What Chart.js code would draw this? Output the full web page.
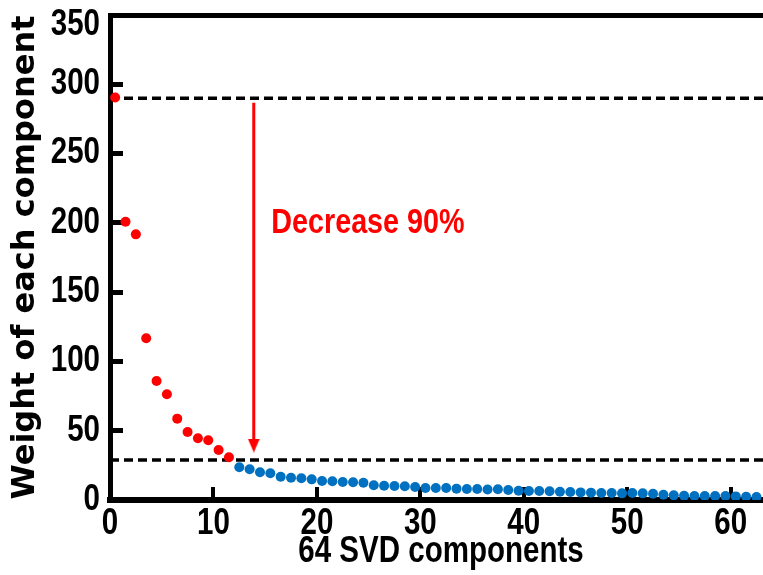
<!DOCTYPE html>
<html><head><meta charset="utf-8">
<script src="https://cdn.jsdelivr.net/npm/chart.js@4/dist/chart.umd.min.js"></script>
<style>
html,body{margin:0;padding:0;overflow:hidden;background:#fff;width:763px;height:575px}
#wrap{position:absolute;left:0;top:0;width:800px;height:575px}
</style>
</head><body><div id="wrap"><canvas id="c" width="800" height="575"></canvas></div>
<script>
// ---- data ----
const xTickLabels = [0, 10, 20, 30, 40, 50, 60];
const yTickLabels = [0, 50, 100, 150, 200, 250, 300, 350];
// weights of the first 12 components (red)
const majorWeights = [290.5, 200.8, 191.7, 116.7, 85.9, 76.3, 58.7, 49.1, 44.5, 43.1, 36.1, 30.8];
// weights of the remaining visible components (blue)
const minorWeights = [23.6, 22.2, 20.0, 19.3, 16.8, 16.1, 15.7, 14.9, 13.7, 13.5, 13.0, 12.8, 12.5,
  10.6, 10.3, 10.1, 9.9, 9.4, 8.7, 8.7, 8.7, 8.2, 7.9, 7.9, 7.6, 7.7, 7.2, 6.7, 6.5, 6.5, 6.3, 6.0,
  5.8, 5.5, 5.3, 5.1, 5.1, 4.8, 5.0, 4.8, 4.5, 3.8, 3.4, 3.1, 2.9, 2.9, 2.9, 2.9, 2.6, 2.4, 2.2];
const referenceLevels = [290, 28.9];        // dashed lines
const arrowComponent = 13.9;                // x of the arrow
const arrowFromTo = [286.6, 39.3];          // arrow start / head centre
const annotationText = 'Decrease 90%';
const annotationAt = [15.6, 192.4];         // x, y (baseline)
const xTitle = '64 SVD components';
const yTitle = 'Weight of each component';

const NARROW = '"Liberation Sans", Arial, sans-serif';
const NARROW_SCALE = 0.82;
const RED = '#ff0000', BLUE = '#0070c0';
const TOP_LABEL = yTickLabels[yTickLabels.length - 1];

const head = document.createElement('canvas');
head.width = 12; head.height = 14;
{ const h = head.getContext('2d'); h.fillStyle = RED; h.beginPath(); h.moveTo(0,0); h.lineTo(12,0); h.lineTo(6,14); h.closePath(); h.fill(); }

const toPts = (arr, start) => arr.map((w, i) => ({x: start + i + 0.5, y: w}));
const hLine = v => [{x: 0, y: v}, {x: 64, y: v}];

// condensed rendering of the "Liberation Sans" labels (Calibri-like narrow look)
const narrowTextPlugin = {
  id: 'narrowText',
  beforeDraw(chart) {
    const ctx = chart.ctx;
    if (ctx.__narrowPatched) return;
    ctx.__narrowPatched = true;
    const orig = ctx.fillText;
    ctx.fillText = function (text, x, y, maxWidth) {
      if (this.font.indexOf('Liberation') >= 0) {
        this.save();
        this.translate(x, y);
        this.scale(NARROW_SCALE, 1);
        orig.call(this, text, 0, 0);
        this.restore();
      } else {
        orig.call(this, text, x, y, maxWidth);
      }
    };
  }
};

const annotationPlugin = {
  id: 'annot',
  afterDatasetsDraw(chart) {
    const {ctx, scales} = chart;
    ctx.save();
    ctx.fillStyle = RED;
    ctx.font = 'bold 35px ' + NARROW;
    ctx.textAlign = 'left';
    ctx.textBaseline = 'alphabetic';
    ctx.fillText(annotationText, scales.x.getPixelForValue(annotationAt[0]), scales.y.getPixelForValue(annotationAt[1]));
    // top y tick label sits just below the frame in the reference
    ctx.fillStyle = '#000';
    ctx.font = 'bold 36px ' + NARROW;
    ctx.textAlign = 'right';
    ctx.textBaseline = 'middle';
    ctx.fillText(String(TOP_LABEL), scales.y.right - 10, scales.y.getPixelForValue(TOP_LABEL) + 10);
    ctx.restore();
  }
};

new Chart(document.getElementById('c'), {
  type: 'scatter',
  data: {
    datasets: [
      {data: toPts(majorWeights, 0), backgroundColor: RED, borderWidth: 0, pointRadius: 5, order: 0},
      {data: toPts(minorWeights, majorWeights.length), backgroundColor: BLUE, borderWidth: 0, pointRadius: 5, order: 0},
      {data: hLine(referenceLevels[0]), showLine: true, borderColor: '#000', borderWidth: 3.5, borderDash: [9, 5], pointRadius: 0, order: 2},
      {data: hLine(referenceLevels[1]), showLine: true, borderColor: '#000', borderWidth: 3.5, borderDash: [9, 5], pointRadius: 0, order: 2},
      {data: [{x: arrowComponent, y: arrowFromTo[0]}, {x: arrowComponent, y: arrowFromTo[1]}], showLine: true,
       borderColor: RED, borderWidth: 3, pointStyle: [false, head], pointRadius: [0, 7], backgroundColor: RED, order: 1}
    ]
  },
  options: {
    responsive: false, animation: false,
    layout: {padding: {top: 15, right: 28, left: 0, bottom: 0}},
    plugins: {legend: {display: false}, tooltip: {enabled: false}},
    scales: {
      x: {
        type: 'linear', position: 'bottom', min: 0, max: 64,
        afterFit: s => { s.height = 75; s.paddingLeft = 0; s.paddingRight = 0; },
        border: {display: true, color: '#000', width: 6},
        grid: {display: true, drawOnChartArea: false, drawTicks: true, tickLength: -13, lineWidth: 4, color: '#000'},
        ticks: {stepSize: 10, includeBounds: false, padding: 15, color: '#000', maxRotation: 0,
          font: {family: NARROW, size: 36, weight: 'bold'},
          callback: v => xTickLabels.includes(v) ? String(v) : ''},
        title: {display: true, text: xTitle, color: '#000', font: {family: NARROW, size: 36, weight: 'bold'}, padding: {top: 0, bottom: 1}}
      },
      x2: {
        type: 'linear', position: 'top', axis: 'x', min: 0, max: 64,
        afterFit: s => { s.height = 0; s.paddingLeft = 0; s.paddingRight = 0; },
        border: {display: true, color: '#000', width: 5},
        grid: {display: false}, ticks: {display: false}
      },
      y: {
        type: 'linear', position: 'left', min: 0, max: 350,
        afterFit: s => { s.width = 110; s.paddingTop = 0; s.paddingBottom = 0; },
        border: {display: true, color: '#000', width: 5},
        grid: {display: true, drawOnChartArea: false, drawTicks: true, tickLength: -13, lineWidth: 5, color: '#000'},
        ticks: {stepSize: 50, padding: 23, color: '#000',
          font: {family: NARROW, size: 36, weight: 'bold'},
          callback: v => (yTickLabels.includes(v) && v !== TOP_LABEL) ? String(v) : ''},
        title: {display: true, text: yTitle, color: '#000', font: {family: '"DejaVu Sans", Verdana, sans-serif', size: 32, weight: 'bold'}, padding: {top: 6, bottom: 0}}
      }
    }
  },
  plugins: [narrowTextPlugin, annotationPlugin]
});
</script>
</body></html>
